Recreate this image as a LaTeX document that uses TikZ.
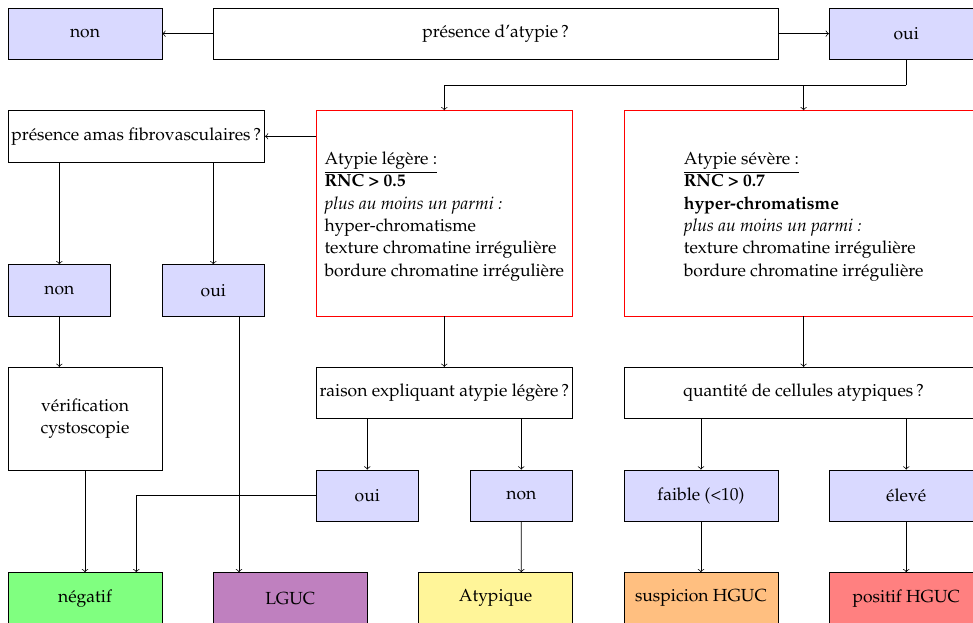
\documentclass[tikz,border=0pt]{standalone}
\usepackage[T1]{fontenc}
\usepackage{mathpazo}
\usetikzlibrary{calc}
\definecolor{atypcol}{RGB}{255,245,153}
\begin{document}
\begin{tikzpicture}[x=1cm,y=-1cm,
  every node/.style={font=\fontsize{9.7}{12.4}\selectfont},
  box/.style={draw, rectangle, inner sep=1pt, align=center, minimum height=1cm},
  qbox/.style={box, fill=white},
  ansbox/.style={box, fill=blue!15},
  critbox/.style={draw=red, rectangle, align=left, inner sep=2pt, minimum height=4cm},
  resbox/.style={box, minimum width=3cm},
  arr/.style={->}]
\useasboundingbox (-0.156,-0.156) rectangle (18.80,11.98);

% row 0
\node[ansbox, minimum width=3cm] (nonA) at (1.5,0.5) {non};
\node[qbox, minimum width=11cm] (pres) at (9.5,0.5) {présence d'atypie\,?};
\node[ansbox, minimum width=3cm] (ouiA) at (17.5,0.5) {oui};

% row 2
\node[qbox, minimum width=5cm] (amas) at (2.5,2.5) {présence amas fibrovasculaires\,?};
\node[critbox, minimum width=5cm] (leg) at (8.5,4) {\rule{0pt}{10.6pt}\underline{Atypie légère :}\\
  \textbf{RNC > 0.5}\\
  \textit{plus au moins un parmi :}\\
  hyper-chromatisme\\
  texture chromatine irrégulière\\
  bordure chromatine irrégulière};
\node[critbox, minimum width=7cm] (sev) at (15.5,4) {\rule{0pt}{10.6pt}\underline{Atypie sévère :}\\
  \textbf{RNC > 0.7}\\
  \textbf{hyper-chromatisme}\\
  \textit{plus au moins un parmi :}\\
  texture chromatine irrégulière\\
  bordure chromatine irrégulière};

% row 5
\node[ansbox, minimum width=2cm] (nonF) at (1,5.5) {non};
\node[ansbox, minimum width=2cm] (ouiF) at (4,5.5) {oui};

% row 7
\node[qbox, minimum width=3cm, minimum height=2cm] (verif) at (1.5,8) {vérification\\cystoscopie};
\node[qbox, minimum width=5cm] (raison) at (8.5,7.5) {raison expliquant atypie légère\,?};
\node[qbox, minimum width=7cm] (quant) at (15.5,7.5) {quantité de cellules atypiques\,?};

% row 9
\node[ansbox, minimum width=2cm] (ouiR) at (7,9.5) {oui};
\node[ansbox, minimum width=2cm] (nonR) at (10,9.5) {non};
\node[ansbox, minimum width=3cm] (faible) at (13.5,9.5) {faible (<10)};
\node[ansbox, minimum width=3cm] (eleve) at (17.5,9.5) {élevé};

% row 11
\node[resbox, fill=green!50] (neg) at (1.5,11.5) {négatif};
\node[resbox, fill=violet!50] (lguc) at (5.5,11.5) {LGUC};
\node[resbox, fill=atypcol] (atyp) at (9.5,11.5) {Atypique};
\node[resbox, fill=orange!50] (susp) at (13.5,11.5) {suspicion HGUC};
\node[resbox, fill=red!50] (pos) at (17.5,11.5) {positif HGUC};

% connectors
\draw[arr] (pres) -- (nonA);
\draw[arr] (pres) -- (ouiA);
\draw (ouiA.south) -- ++(0,0.5) coordinate (j);
\draw[arr] (j) -| (leg.north);
\draw[arr] (j -| sev.north) -- (sev.north);
\draw[arr] (leg.west |- amas.east) -- (amas.east);
\draw[arr] (amas.south -| nonF.north) -- (nonF.north);
\draw[arr] (amas.south -| ouiF.north) -- (ouiF.north);
\draw[arr] (nonF.south) -- (nonF.south |- verif.north);
\draw[arr] (verif.south) -- (neg.north);
\draw[arr] ([xshift=0.5cm]ouiF.south) -- ([xshift=-1cm]lguc.north);
\draw[arr] (leg.south) -- (raison.north);
\draw[arr] (raison.south -| ouiR.north) -- (ouiR.north);
\draw[arr] (raison.south -| nonR.north) -- (nonR.north);
\draw[arr] (ouiR.west) -| ([xshift=1cm]neg.north);
\draw[arr] (nonR.south) -- ([xshift=0.5cm]atyp.north);
\draw[arr] (sev.south) -- (quant.north);
\draw[arr] (quant.south -| faible.north) -- (faible.north);
\draw[arr] (quant.south -| eleve.north) -- (eleve.north);
\draw[arr] (faible.south) -- (susp.north);
\draw[arr] (eleve.south) -- (pos.north);
\end{tikzpicture}
\end{document}
